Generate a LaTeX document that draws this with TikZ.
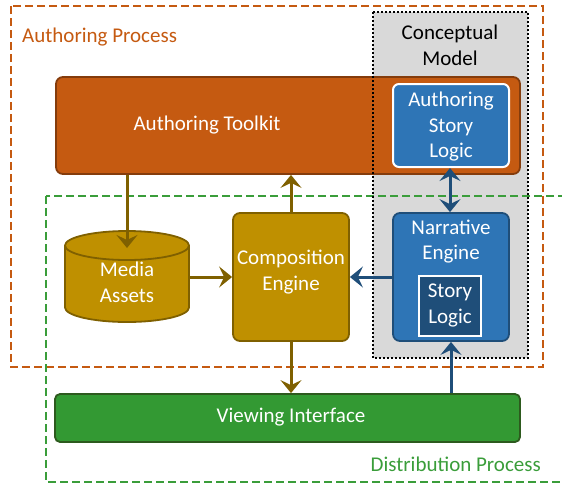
\documentclass[tikz,border=0pt]{standalone}
\usepackage{fontspec}
\setmainfont{Carlito}
\usetikzlibrary{arrows.meta}
\definecolor{orgfill}{HTML}{C55A11}
\definecolor{orgline}{HTML}{843C0C}
\definecolor{goldfill}{HTML}{BF9000}
\definecolor{goldline}{HTML}{7F6000}
\definecolor{bluefill}{HTML}{2E75B6}
\definecolor{blueline}{HTML}{1F4E79}
\definecolor{darkblue}{HTML}{1F4E79}
\definecolor{grnfill}{HTML}{339933}
\definecolor{grnline}{HTML}{2D5A1E}
\definecolor{grndash}{HTML}{3A9D3A}
\definecolor{graybg}{HTML}{D9D9D9}
\tikzset{
  txt/.style={font=\fontsize{21}{25.5}\selectfont, align=center, inner sep=0pt},
  wtxt/.style={txt, text=white},
  boxbase/.style={inner sep=0pt, rounded corners=7pt, line width=1.8pt},
  orgbox/.style={boxbase, fill=orgfill, draw=orgline},
  goldbox/.style={boxbase, fill=goldfill, draw=goldline},
  bluebox/.style={boxbase, fill=bluefill, draw=blueline},
  aslbox/.style={boxbase, fill=bluefill, draw=white, line width=2pt, rounded corners=6pt},
  storybox/.style={inner sep=0pt, fill=darkblue, draw=white, line width=1.8pt},
  grnbox/.style={boxbase, fill=grnfill, draw=grnline, rounded corners=5pt},
  tip/.style={-{Stealth[length=13pt, width=21pt, inset=5pt]}},
  goldarrow/.style={tip, draw=goldline, line width=3pt},
  bluearrow/.style={tip, draw=blueline, line width=3pt},
}
\begin{document}
\begin{tikzpicture}[x=1pt, y=-1pt]
\useasboundingbox (0,0) rectangle (562,485);
\clip (0,0) rectangle (562,485);
% gray conceptual background
\fill[graybg] (373,12) rectangle (528,358);
% authoring process dashed
\draw[orgfill, line width=2pt, dash pattern=on 8pt off 4pt] (11,6) rectangle (543,367);
\node[txt, text=orgfill, anchor=west] (authproc) at (22,37) {Authoring Process};
% distribution process dashed
\draw[grndash, line width=2pt, dash pattern=on 8pt off 4pt] (46,196) rectangle (620,482);
\node[txt, text=grndash, anchor=east] (distproc) at (541,464) {Distribution Process};
% conceptual model label
\node[txt] (concept) at (450,45.5) {Conceptual\\Model};
% boxes
\node[orgbox, minimum width=464pt, minimum height=97pt] (toolkit) at (288,125.5) {};
\node[wtxt] (tklabel) at (207,125) {Authoring Toolkit};
\node[aslbox, minimum width=116pt, minimum height=83pt] (asl) at (451,125.5) {};
\node[wtxt] (asllabel) at (451,127) {Authoring\\Story\\Logic};
% conceptual dotted border on top
\draw[black, line width=2pt, dash pattern=on 2pt off 2pt] (373,12) rectangle (528,358);
% composition
\node[goldbox, minimum width=116pt, minimum height=128pt] (comp) at (291,277) {};
\node[wtxt] (complabel) at (291,272) {Composition\\Engine};
% narrative
\node[bluebox, minimum width=116pt, minimum height=128pt] (narr) at (451,277) {};
\node[wtxt] (narrlabel) at (451,241.5) {Narrative\\Engine};
\node[storybox, minimum width=62pt, minimum height=60pt] (story) at (450,306) {};
\node[wtxt] (storylabel) at (450,305.5) {Story\\Logic};
% viewing interface
\node[grnbox, minimum width=465pt, minimum height=48pt] (view) at (287.5,418) {};
\node[wtxt] (viewlabel) at (291,417) {Viewing Interface};
% media assets cylinder
\node[inner sep=0pt, minimum width=124pt, minimum height=91pt] (media) at (127,276.5) {};
\filldraw[fill=goldfill, draw=goldline, line width=1.8pt]
  (65,245.5) -- (65,307.5) arc[start angle=180, end angle=360, x radius=62, y radius=-14.5]
  -- (189,245.5) arc[start angle=0, end angle=180, x radius=62, y radius=-14.5] -- cycle;
\draw[goldline, line width=1.8pt] (65,245.5) arc[start angle=180, end angle=360, x radius=62, y radius=-14.5];
\node[wtxt] (medialabel) at (127,282.5) {Media\\Assets};
% arrows
\coordinate (mediatop) at (127,248);
\draw[goldarrow] (toolkit.south -| mediatop) -- (mediatop);
\draw[goldarrow] (media.east |- comp.west) -- (comp.west);
\draw[goldarrow] (comp.north) -- (comp.north |- toolkit.south);
\draw[goldarrow] (comp.south) -- (comp.south |- view.north);
\draw[bluearrow] (narr.west) -- (comp.east);
\draw[bluearrow, {Stealth[length=13pt, width=21pt, inset=5pt]}-{Stealth[length=13pt, width=21pt, inset=5pt]}] (asl.south -| story.north) -- (story.north |- narr.north);
\draw[bluearrow] (view.north -| narr.south) -- (narr.south);
\end{tikzpicture}
\end{document}
